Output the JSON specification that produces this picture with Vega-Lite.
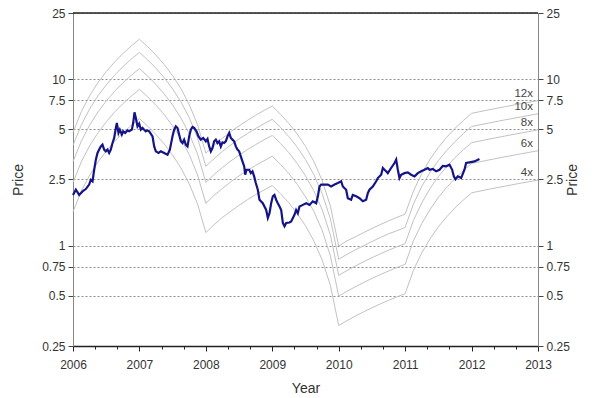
{
  "$schema": "https://vega.github.io/schema/vega-lite/v6.json",
  "autosize": "none",
  "width": 465,
  "height": 333,
  "padding": {"left": 73, "top": 13, "right": 64, "bottom": 52},
  "background": "white",
  "config": {
    "view": {"stroke": null},
    "font": "Liberation Sans",
    "axis": {"labelFont": "Liberation Sans", "titleFont": "Liberation Sans", "labelFontSize": 12, "titleFontSize": 14, "titleFontWeight": "normal", "labelColor": "#333", "titleColor": "#333"}
  },
  "datasets": {
    "bands": [
      {"t":2006,"m4":1.6,"m6":2.4,"m8":3.2,"m10":4.0,"m12":4.8},
      {"t":2006.125,"m4":2.13,"m6":3.19,"m8":4.25,"m10":5.31,"m12":6.38},
      {"t":2006.25,"m4":2.65,"m6":3.98,"m8":5.3,"m10":6.63,"m12":7.95},
      {"t":2006.375,"m4":3.18,"m6":4.76,"m8":6.35,"m10":7.94,"m12":9.53},
      {"t":2006.5,"m4":3.7,"m6":5.55,"m8":7.4,"m10":9.25,"m12":11.1},
      {"t":2006.625,"m4":4.23,"m6":6.34,"m8":8.45,"m10":10.56,"m12":12.68},
      {"t":2006.75,"m4":4.75,"m6":7.13,"m8":9.5,"m10":11.88,"m12":14.25},
      {"t":2006.875,"m4":5.28,"m6":7.91,"m8":10.55,"m10":13.19,"m12":15.83},
      {"t":2007,"m4":5.8,"m6":8.7,"m8":11.6,"m10":14.5,"m12":17.4},
      {"t":2007.125,"m4":5.23,"m6":7.84,"m8":10.45,"m10":13.06,"m12":15.68},
      {"t":2007.25,"m4":4.65,"m6":6.98,"m8":9.3,"m10":11.63,"m12":13.95},
      {"t":2007.375,"m4":4.08,"m6":6.11,"m8":8.15,"m10":10.19,"m12":12.23},
      {"t":2007.5,"m4":3.5,"m6":5.25,"m8":7.0,"m10":8.75,"m12":10.5},
      {"t":2007.625,"m4":2.93,"m6":4.39,"m8":5.85,"m10":7.31,"m12":8.78},
      {"t":2007.75,"m4":2.35,"m6":3.53,"m8":4.7,"m10":5.88,"m12":7.05},
      {"t":2007.875,"m4":1.78,"m6":2.66,"m8":3.55,"m10":4.44,"m12":5.33},
      {"t":2008,"m4":1.2,"m6":1.8,"m8":2.4,"m10":3.0,"m12":3.6},
      {"t":2008.125,"m4":1.34,"m6":2.01,"m8":2.68,"m10":3.34,"m12":4.01},
      {"t":2008.25,"m4":1.48,"m6":2.21,"m8":2.95,"m10":3.69,"m12":4.43},
      {"t":2008.375,"m4":1.61,"m6":2.42,"m8":3.23,"m10":4.03,"m12":4.84},
      {"t":2008.5,"m4":1.75,"m6":2.63,"m8":3.5,"m10":4.38,"m12":5.25},
      {"t":2008.625,"m4":1.89,"m6":2.83,"m8":3.78,"m10":4.72,"m12":5.66},
      {"t":2008.75,"m4":2.03,"m6":3.04,"m8":4.05,"m10":5.06,"m12":6.08},
      {"t":2008.875,"m4":2.16,"m6":3.24,"m8":4.33,"m10":5.41,"m12":6.49},
      {"t":2009,"m4":2.3,"m6":3.45,"m8":4.6,"m10":5.75,"m12":6.9},
      {"t":2009.125,"m4":2.05,"m6":3.08,"m8":4.11,"m10":5.14,"m12":6.16},
      {"t":2009.25,"m4":1.81,"m6":2.71,"m8":3.62,"m10":4.52,"m12":5.42},
      {"t":2009.375,"m4":1.56,"m6":2.34,"m8":3.12,"m10":3.91,"m12":4.69},
      {"t":2009.5,"m4":1.32,"m6":1.97,"m8":2.63,"m10":3.29,"m12":3.95},
      {"t":2009.625,"m4":1.07,"m6":1.61,"m8":2.14,"m10":2.68,"m12":3.21},
      {"t":2009.75,"m4":0.824,"m6":1.24,"m8":1.65,"m10":2.06,"m12":2.47},
      {"t":2009.875,"m4":0.578,"m6":0.867,"m8":1.16,"m10":1.45,"m12":1.73},
      {"t":2010,"m4":0.332,"m6":0.498,"m8":0.664,"m10":0.83,"m12":0.996},
      {"t":2010.125,"m4":0.355,"m6":0.533,"m8":0.71,"m10":0.888,"m12":1.07},
      {"t":2010.25,"m4":0.378,"m6":0.567,"m8":0.756,"m10":0.945,"m12":1.13},
      {"t":2010.375,"m4":0.401,"m6":0.602,"m8":0.802,"m10":1.0,"m12":1.2},
      {"t":2010.5,"m4":0.424,"m6":0.636,"m8":0.848,"m10":1.06,"m12":1.27},
      {"t":2010.625,"m4":0.447,"m6":0.671,"m8":0.894,"m10":1.12,"m12":1.34},
      {"t":2010.75,"m4":0.47,"m6":0.705,"m8":0.94,"m10":1.18,"m12":1.41},
      {"t":2010.875,"m4":0.493,"m6":0.74,"m8":0.986,"m10":1.23,"m12":1.48},
      {"t":2011,"m4":0.516,"m6":0.774,"m8":1.03,"m10":1.29,"m12":1.55},
      {"t":2011.125,"m4":0.712,"m6":1.07,"m8":1.42,"m10":1.78,"m12":2.13},
      {"t":2011.25,"m4":0.907,"m6":1.36,"m8":1.81,"m10":2.27,"m12":2.72},
      {"t":2011.375,"m4":1.1,"m6":1.65,"m8":2.21,"m10":2.76,"m12":3.31},
      {"t":2011.5,"m4":1.3,"m6":1.95,"m8":2.6,"m10":3.25,"m12":3.89},
      {"t":2011.625,"m4":1.49,"m6":2.24,"m8":2.99,"m10":3.73,"m12":4.48},
      {"t":2011.75,"m4":1.69,"m6":2.53,"m8":3.38,"m10":4.22,"m12":5.07},
      {"t":2011.875,"m4":1.88,"m6":2.83,"m8":3.77,"m10":4.71,"m12":5.65},
      {"t":2012,"m4":2.08,"m6":3.12,"m8":4.16,"m10":5.2,"m12":6.24},
      {"t":2012.25,"m4":2.18,"m6":3.27,"m8":4.36,"m10":5.45,"m12":6.54},
      {"t":2012.5,"m4":2.28,"m6":3.42,"m8":4.56,"m10":5.7,"m12":6.84},
      {"t":2012.75,"m4":2.38,"m6":3.57,"m8":4.76,"m10":5.95,"m12":7.14},
      {"t":2013,"m4":2.48,"m6":3.72,"m8":4.96,"m10":6.2,"m12":7.44}
    ],
    "price": [
      {"t":2006.0,"p":2.02},{"t":2006.043,"p":2.17},{"t":2006.093,"p":2.02},{"t":2006.143,"p":2.12},
      {"t":2006.193,"p":2.19},{"t":2006.243,"p":2.33},{"t":2006.268,"p":2.49},{"t":2006.294,"p":2.44},
      {"t":2006.319,"p":2.86},{"t":2006.344,"p":3.29},{"t":2006.369,"p":3.61},{"t":2006.394,"p":3.78},
      {"t":2006.419,"p":3.95},{"t":2006.444,"p":4.05},{"t":2006.469,"p":3.78},{"t":2006.494,"p":3.69},
      {"t":2006.519,"p":3.78},{"t":2006.544,"p":3.61},{"t":2006.569,"p":3.78},{"t":2006.595,"p":4.14},
      {"t":2006.62,"p":4.44},{"t":2006.645,"p":5.1},{"t":2006.66,"p":5.46},{"t":2006.685,"p":4.76},
      {"t":2006.705,"p":4.98},{"t":2006.735,"p":4.65},{"t":2006.755,"p":4.87},{"t":2006.785,"p":4.76},
      {"t":2006.82,"p":4.93},{"t":2006.845,"p":4.87},{"t":2006.886,"p":4.98},{"t":2006.906,"p":5.46},
      {"t":2006.926,"p":6.33},{"t":2006.946,"p":5.85},{"t":2006.971,"p":5.22},{"t":2006.996,"p":5.41},
      {"t":2007.021,"p":4.98},{"t":2007.046,"p":5.1},{"t":2007.071,"p":4.98},{"t":2007.096,"p":4.87},
      {"t":2007.121,"p":4.93},{"t":2007.147,"p":4.87},{"t":2007.197,"p":4.54},{"t":2007.222,"p":3.95},
      {"t":2007.247,"p":3.69},{"t":2007.287,"p":3.61},{"t":2007.322,"p":3.69},{"t":2007.372,"p":3.61},
      {"t":2007.423,"p":3.52},{"t":2007.458,"p":3.78},{"t":2007.498,"p":4.54},{"t":2007.523,"p":4.98},
      {"t":2007.548,"p":5.22},{"t":2007.573,"p":5.1},{"t":2007.598,"p":4.65},{"t":2007.623,"p":4.24},
      {"t":2007.648,"p":4.14},{"t":2007.673,"p":4.34},{"t":2007.698,"p":4.05},{"t":2007.724,"p":3.95},
      {"t":2007.749,"p":4.54},{"t":2007.774,"p":4.98},{"t":2007.799,"p":5.17},{"t":2007.824,"p":5.1},
      {"t":2007.859,"p":4.87},{"t":2007.889,"p":4.54},{"t":2007.924,"p":4.34},{"t":2007.96,"p":4.44},
      {"t":2008.0,"p":4.24},{"t":2008.025,"p":4.38},{"t":2008.05,"p":3.95},{"t":2008.075,"p":3.69},
      {"t":2008.1,"p":3.86},{"t":2008.125,"p":4.24},{"t":2008.15,"p":4.34},{"t":2008.175,"p":4.14},
      {"t":2008.2,"p":4.24},{"t":2008.225,"p":3.95},{"t":2008.25,"p":4.18},{"t":2008.275,"p":4.14},
      {"t":2008.3,"p":4.24},{"t":2008.326,"p":4.54},{"t":2008.351,"p":4.76},{"t":2008.376,"p":4.44},
      {"t":2008.401,"p":4.34},{"t":2008.426,"p":4.24},{"t":2008.451,"p":3.95},{"t":2008.476,"p":3.78},
      {"t":2008.501,"p":3.69},{"t":2008.526,"p":3.44},{"t":2008.551,"p":3.21},{"t":2008.577,"p":3.0},
      {"t":2008.592,"p":2.67},{"t":2008.612,"p":2.86},{"t":2008.652,"p":2.86},{"t":2008.677,"p":2.73},
      {"t":2008.702,"p":2.8},{"t":2008.727,"p":2.61},{"t":2008.752,"p":2.38},{"t":2008.782,"p":2.17},
      {"t":2008.807,"p":1.89},{"t":2008.857,"p":1.8},{"t":2008.908,"p":1.64},{"t":2008.933,"p":1.47},
      {"t":2008.958,"p":1.57},{"t":2008.983,"p":1.8},{"t":2009.008,"p":1.98},{"t":2009.033,"p":2.02},
      {"t":2009.058,"p":1.89},{"t":2009.083,"p":1.8},{"t":2009.109,"p":1.72},{"t":2009.134,"p":1.64},
      {"t":2009.159,"p":1.37},{"t":2009.184,"p":1.31},{"t":2009.209,"p":1.37},{"t":2009.259,"p":1.38},
      {"t":2009.284,"p":1.4},{"t":2009.334,"p":1.535},{"t":2009.359,"p":1.64},{"t":2009.384,"p":1.57},
      {"t":2009.41,"p":1.72},{"t":2009.46,"p":1.76},{"t":2009.51,"p":1.8},{"t":2009.56,"p":1.76},
      {"t":2009.61,"p":1.85},{"t":2009.661,"p":1.8},{"t":2009.686,"p":1.98},{"t":2009.711,"p":2.27},
      {"t":2009.736,"p":2.33},{"t":2009.786,"p":2.33},{"t":2009.836,"p":2.33},{"t":2009.886,"p":2.27},
      {"t":2009.937,"p":2.33},{"t":2009.987,"p":2.38},{"t":2010.037,"p":2.44},{"t":2010.062,"p":2.27},
      {"t":2010.112,"p":2.17},{"t":2010.137,"p":1.93},{"t":2010.187,"p":1.89},{"t":2010.212,"p":2.02},
      {"t":2010.263,"p":1.98},{"t":2010.313,"p":1.93},{"t":2010.363,"p":1.85},{"t":2010.413,"p":1.89},
      {"t":2010.438,"p":2.07},{"t":2010.463,"p":2.17},{"t":2010.513,"p":2.27},{"t":2010.564,"p":2.44},
      {"t":2010.589,"p":2.55},{"t":2010.639,"p":2.67},{"t":2010.664,"p":2.93},{"t":2010.689,"p":2.86},
      {"t":2010.714,"p":2.8},{"t":2010.739,"p":2.73},{"t":2010.789,"p":2.93},{"t":2010.84,"p":3.14},
      {"t":2010.865,"p":3.29},{"t":2010.89,"p":2.86},{"t":2010.915,"p":2.55},{"t":2010.94,"p":2.67},
      {"t":2010.99,"p":2.73},{"t":2011.04,"p":2.76},{"t":2011.09,"p":2.67},{"t":2011.141,"p":2.61},
      {"t":2011.191,"p":2.73},{"t":2011.241,"p":2.8},{"t":2011.291,"p":2.86},{"t":2011.341,"p":2.93},
      {"t":2011.367,"p":2.86},{"t":2011.417,"p":2.89},{"t":2011.467,"p":2.8},{"t":2011.517,"p":2.86},
      {"t":2011.567,"p":3.02},{"t":2011.617,"p":3.0},{"t":2011.668,"p":3.07},{"t":2011.708,"p":2.86},
      {"t":2011.733,"p":2.61},{"t":2011.758,"p":2.51},{"t":2011.793,"p":2.61},{"t":2011.843,"p":2.55},
      {"t":2011.893,"p":2.86},{"t":2011.918,"p":3.14},{"t":2011.969,"p":3.17},{"t":2012.044,"p":3.21},
      {"t":2012.119,"p":3.32}
    ],
    "labels": [
      {"t":2013,"v":7.44,"lab":"12x"},
      {"t":2013,"v":6.2,"lab":"10x"},
      {"t":2013,"v":4.96,"lab":"8x"},
      {"t":2013,"v":3.72,"lab":"6x"},
      {"t":2013,"v":2.48,"lab":"4x"}
    ],
    "topline": [{"t":2006,"v":25},{"t":2013,"v":25}]
  },
  "resolve": {"axis": {"y": "independent"}},
  "encoding": {
    "x": {"field": "t", "type": "quantitative", "scale": {"domain": [2006, 2013], "nice": false, "zero": false},
      "axis": {"title": "Year", "values": [2006,2006.3333,2006.6667,2007,2007.3333,2007.6667,2008,2008.3333,2008.6667,2009,2009.3333,2009.6667,2010,2010.3333,2010.6667,2011,2011.3333,2011.6667,2012,2012.3333,2012.6667,2013],
        "labelExpr": "abs(datum.value - round(datum.value)) < 0.01 ? '' + round(datum.value) : ''",
        "labelOverlap": false, "labelBound": false,
        "tickSize": {"condition": {"test": "abs(datum.value - round(datum.value)) < 0.01", "value": 5}, "value": 3},
        "grid": false, "domainColor": "#222", "domainWidth": 1.5, "tickColor": "#222", "labelPadding": 8, "titlePadding": 11, "labelFlush": false}}
  },
  "layer": [
    {
      "data": {"name": "bands"},
      "transform": [{"fold": ["m12","m10","m8","m6","m4"], "as": ["mult","v"]}],
      "mark": {"type": "line", "color": "#c2c2c2", "strokeWidth": 1},
      "encoding": {
        "y": {"field": "v", "type": "quantitative", "scale": {"type": "log", "domain": [0.25, 25], "nice": false, "zero": false},
          "axis": {"orient": "left", "title": "Price", "values": [0.25,0.5,0.75,1,2.5,5,7.5,10,25],
            "labelExpr": "'' + datum.value", "labelOverlap": false, "grid": true, "gridDash": [2,2], "gridColor": "#8c8c8c", "gridWidth": 1,
            "domainColor": "#888", "tickColor": "#444", "tickSize": 5, "labelPadding": 3, "titlePadding": 16}},
        "detail": {"field": "mult"}
      }
    },
    {
      "data": {"name": "price"},
      "mark": {"type": "line", "color": "#141488", "strokeWidth": 2.2},
      "encoding": {
        "y": {"field": "p", "type": "quantitative", "scale": {"type": "log", "domain": [0.25, 25], "nice": false, "zero": false},
          "axis": {"orient": "right", "title": "Price", "titleAngle": 270, "values": [0.25,0.5,0.75,1,2.5,5,7.5,10,25],
            "labelExpr": "'' + datum.value", "labelOverlap": false, "grid": false, "domainColor": "#888", "tickColor": "#444", "tickSize": 5, "labelPadding": 3, "titlePadding": 10}}
      }
    },
    {
      "data": {"name": "labels"},
      "mark": {"type": "text", "align": "right", "baseline": "middle", "dx": -5, "dy": -7, "fontSize": 11.5, "color": "#444", "font": "Liberation Sans"},
      "encoding": {
        "y": {"field": "v", "type": "quantitative", "scale": {"type": "log", "domain": [0.25, 25], "nice": false, "zero": false}, "axis": null},
        "text": {"field": "lab"}
      }
    },
    {
      "data": {"name": "topline"},
      "mark": {"type": "line", "color": "#222", "strokeWidth": 1.5},
      "encoding": {
        "y": {"field": "v", "type": "quantitative", "scale": {"type": "log", "domain": [0.25, 25], "nice": false, "zero": false}, "axis": null}
      }
    }
  ]
}
